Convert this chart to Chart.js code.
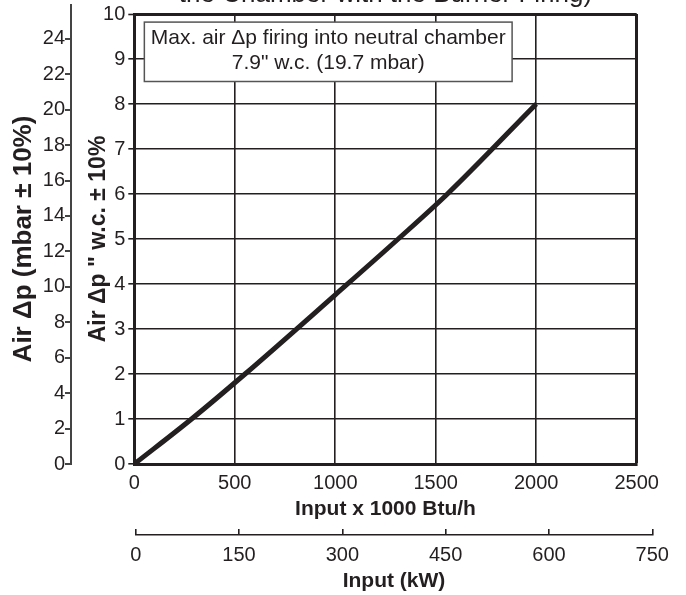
<!DOCTYPE html>
<html>
<head>
<meta charset="utf-8">
<script src="https://cdn.jsdelivr.net/npm/chart.js@4.4.0/dist/chart.umd.min.js"></script>
<style>
  html, body { margin: 0; padding: 0; background: #fff; overflow: hidden; }
  #wrap { position: relative; width: 686px; height: 595px; overflow: hidden; }
  #main { position: absolute; left: 0; top: -21px; }
  #kw { position: absolute; left: 0; top: 520px; }
</style>
</head>
<body>
<div id="wrap">
  <canvas id="main" width="686" height="616"></canvas>
  <canvas id="kw" width="686" height="75"></canvas>
</div>
<script>
/* air pressure drop curve (where it crosses the grid) */
const INPUT_KBTU  = [0, 285, 551, 1000, 1313, 1558, 2000];
const AIR_DP_INWC = [0, 1, 2, 3.76, 5, 6, 8];

const X_TICKS    = [0, 500, 1000, 1500, 2000, 2500];
const INWC_TICKS = [0, 1, 2, 3, 4, 5, 6, 7, 8, 9, 10];
const MBAR_TICKS = [0, 2, 4, 6, 8, 10, 12, 14, 16, 18, 20, 22, 24];
const KW_TICKS   = [0, 150, 300, 450, 600, 750];

const TITLE = 'the Chamber with the Burner Firing)';
const NOTE_LINES = ['Max. air \u0394p firing into neutral chamber', '7.9" w.c. (19.7 mbar)'];

const INK = '#231f20';
const FAMILY = "'Liberation Sans', Arial, sans-serif";
const TICK_FONT = { family: FAMILY, size: 20 };
const NOTE_BOX = { x0: 50, x1: 1880, y0: 9.82, y1: 8.5 };   // in data units

const setTicks = arr => scale => { scale.ticks = arr.map(v => ({ value: v })); };

/* note box + small stub of the mbar axis above the frame */
const notePlugin = {
  id: 'note',
  afterDraw(chart) {
    const { ctx, chartArea, scales: { x, y, mbar } } = chart;
    ctx.save();
    ctx.strokeStyle = '#444';
    ctx.lineWidth = 2;
    const ax = Math.round(mbar.right);
    ctx.beginPath();
    ctx.moveTo(ax, chartArea.top);
    ctx.lineTo(ax, chartArea.top - 10);
    ctx.stroke();

    const left = x.getPixelForValue(NOTE_BOX.x0), right = x.getPixelForValue(NOTE_BOX.x1);
    const top = y.getPixelForValue(NOTE_BOX.y0), bottom = y.getPixelForValue(NOTE_BOX.y1);
    ctx.fillStyle = '#fff';
    ctx.fillRect(left, top, right - left, bottom - top);
    ctx.strokeStyle = '#555';
    ctx.lineWidth = 1.5;
    ctx.strokeRect(left, top, right - left, bottom - top);
    ctx.fillStyle = INK;
    ctx.font = '21px ' + FAMILY;
    ctx.textAlign = 'center';
    ctx.textBaseline = 'middle';
    const cx = (left + right) / 2;
    ctx.fillText(NOTE_LINES[0], cx, top + 16.5);
    ctx.fillText(NOTE_LINES[1], cx, top + 41.5);
    ctx.restore();
  }
};

new Chart(document.getElementById('main'), {
  type: 'line',
  data: {
    datasets: [{
      data: INPUT_KBTU.map((v, i) => ({ x: v, y: AIR_DP_INWC[i] })),
      borderColor: INK,
      borderWidth: 5,
      pointRadius: 0,
      cubicInterpolationMode: 'monotone',
      xAxisID: 'x',
      yAxisID: 'y'
    }]
  },
  options: {
    responsive: false,
    animation: false,
    layout: { padding: { left: 0, right: 49.3, top: 0, bottom: 72.9 } },
    plugins: {
      legend: { display: false },
      tooltip: { enabled: false },
      title: {
        display: true, text: TITLE, color: INK, fullSize: false,
        font: { family: FAMILY, size: 26, weight: 'normal' },
        padding: { top: 0, bottom: 3.8 }
      }
    },
    scales: {
      x: {
        type: 'linear', min: 0, max: 2500,
        afterBuildTicks: setTicks(X_TICKS),
        afterFit: s => { s.height = 58.1; },
        grid: { color: INK, lineWidth: c => (c.tick && c.tick.value === 2500 ? 3 : 1.6), drawTicks: false },
        border: { color: INK, width: 3 },
        ticks: { color: INK, font: TICK_FONT, padding: 7, maxRotation: 0, autoSkip: false, callback: v => v },
        title: {
          display: true, text: 'Input x 1000 Btu/h', color: INK,
          font: { family: FAMILY, size: 21, weight: 'bold' }, padding: { top: 0, bottom: 0 }
        }
      },
      y: {
        position: 'left', weight: 0, min: 0, max: 10,
        afterBuildTicks: setTicks(INWC_TICKS),
        afterFit: s => { s.width = 63.3; },
        grid: {
          color: INK, lineWidth: c => (c.tick && c.tick.value === 10 ? 3 : 1.6),
          tickLength: 6, tickWidth: 1.6, tickColor: INK
        },
        border: { color: INK, width: 3 },
        ticks: { color: INK, font: TICK_FONT, padding: 3, callback: v => v },
        title: {
          display: true, text: 'Air \u0394p " w.c. \u00b1 10%', color: INK,
          font: { family: FAMILY, size: 23, weight: 'bold' }, padding: { top: 13.5, bottom: 0 }
        }
      },
      mbar: {
        position: 'left', weight: 1, min: 0, max: 25.4,
        afterBuildTicks: setTicks(MBAR_TICKS),
        afterFit: s => { s.width = 71; },
        grid: { drawOnChartArea: false, color: '#444', lineWidth: 2, tickLength: 6 },
        border: { color: '#444', width: 2 },
        ticks: { color: INK, font: TICK_FONT, padding: 0, callback: v => v },
        title: {
          display: true, text: 'Air \u0394p (mbar \u00b1 10%)', color: INK,
          font: { family: FAMILY, size: 26, weight: 'bold' }, padding: { top: 8.4, bottom: 0 }
        }
      }
    }
  },
  plugins: [notePlugin]
});

/* secondary kW axis under the main chart */
new Chart(document.getElementById('kw'), {
  type: 'line',
  data: { datasets: [] },
  options: {
    responsive: false,
    animation: false,
    layout: { padding: { left: 135.7, right: 33.7, top: 9, bottom: 0 } },
    plugins: { legend: { display: false }, tooltip: { enabled: false } },
    scales: {
      x: {
        type: 'linear', min: 0, max: 750,
        afterBuildTicks: setTicks(KW_TICKS),
        afterFit: s => { s.height = 60; },
        grid: { color: INK, lineWidth: 1.6, drawTicks: false },
        border: { color: INK, width: 1.6 },
        ticks: { color: INK, font: TICK_FONT, padding: 8, maxRotation: 0, autoSkip: false, callback: v => v },
        title: {
          display: true, text: 'Input (kW)', color: INK,
          font: { family: FAMILY, size: 21, weight: 'bold' }, padding: { top: 0, bottom: 1.4 }
        }
      },
      y: { display: false, min: 0, max: 1 }
    }
  }
});
</script>
</body>
</html>
